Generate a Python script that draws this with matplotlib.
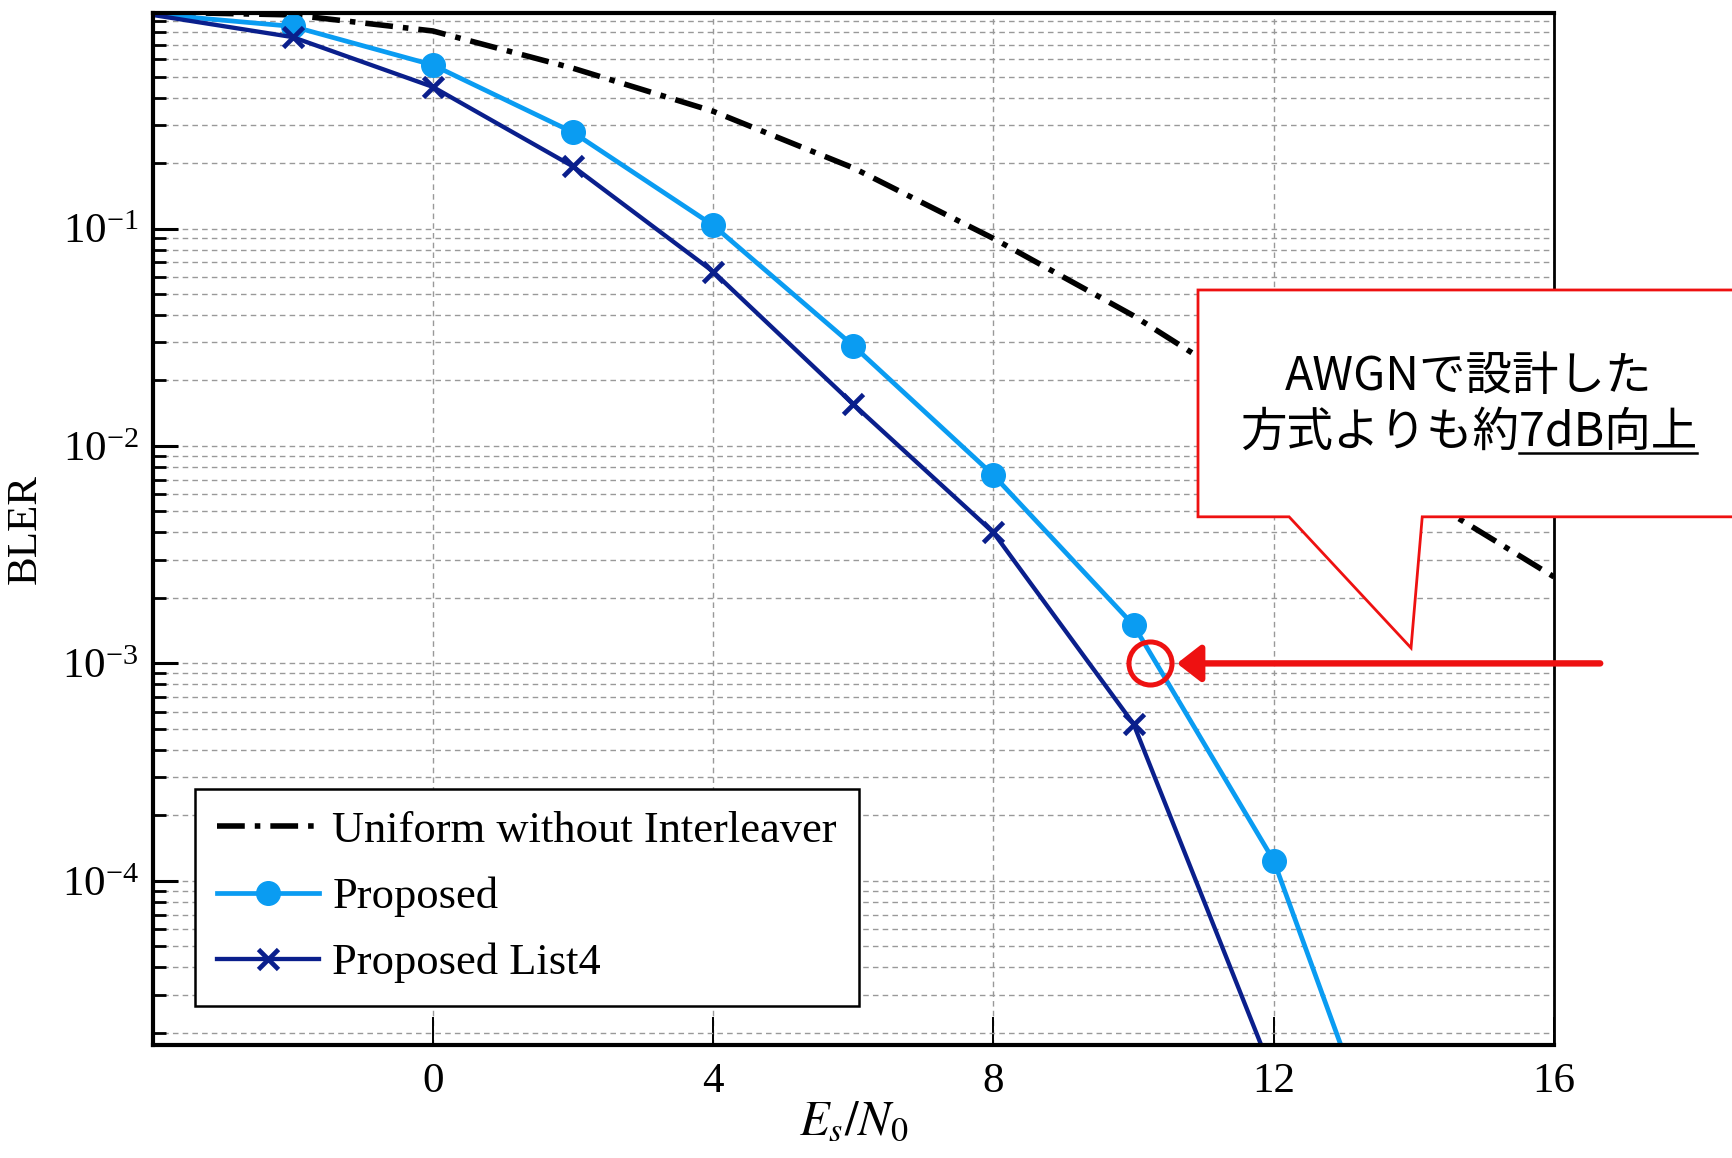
import numpy as np
import matplotlib
matplotlib.use("Agg")
import matplotlib.pyplot as plt
from matplotlib.patches import Polygon
from matplotlib.ticker import LogLocator, NullFormatter

# data: BLER vs Es/N0
snr = [-4, -2, 0, 2, 4, 6, 8, 10, 12, 14, 16]
uniform = [0.99, 0.96, 0.81, 0.546, 0.346, 0.19, 0.090, 0.0397, 0.0155, 0.0062, 0.0025]

snr_prop = [-4, -2, 0, 2, 4, 6, 8, 10, 12, 14]
proposed = [0.97, 0.85, 0.565, 0.277, 0.1035, 0.0289, 0.00734, 0.0015, 1.24e-4, 2.1e-6]

snr_list4 = [-4, -2, 0, 2, 4, 6, 8, 10, 12]
list4 = [0.96, 0.759, 0.448, 0.193, 0.0634, 0.01556, 0.0040, 5.27e-4, 1.26e-5]

labels = ["Uniform without Interleaver", "Proposed", "Proposed List4"]
xticks = [0, 4, 8, 12, 16]

# highlighted operating point
mark_x, mark_y = 10.23, 1e-3
arrow_from, arrow_to = 16.66, 10.62

plt.rcParams["font.family"] = ["Liberation Serif", "DejaVu Serif"]
plt.rcParams["mathtext.fontset"] = "stix"

fig = plt.figure(figsize=(17.33, 11.58), dpi=100)
ax = fig.add_axes([0.088, 0.0972, 0.8087, 0.8916])

ax.plot(snr, uniform, color="black", lw=4, ls=(0, (5, 1.8, 1, 1.8)), label=labels[0])
ax.plot(snr_prop, proposed, color="#0a9cf2", lw=3.4, marker="o", ms=17,
        markevery=slice(1, None), label=labels[1])
ax.plot(snr_list4, list4, color="#0a1f8c", lw=3.1, marker="x", ms=15, mew=3.4,
        markevery=slice(1, None), label=labels[2])

ax.set_yscale("log")
ax.set_xlim(-4, 16)
ax.set_ylim(1.75e-5, 0.98)
ax.set_xticks(xticks)
ax.yaxis.set_major_locator(LogLocator(base=10, numticks=20))
ax.yaxis.set_minor_locator(LogLocator(base=10, subs=np.arange(2, 10), numticks=20))
ax.yaxis.set_minor_formatter(NullFormatter())

ax.tick_params(axis="both", which="major", direction="in", labelsize=31)
ax.tick_params(axis="y", which="major", length=18, width=2.2, pad=10)
ax.tick_params(axis="y", which="minor", direction="in", length=9, width=2)
ax.tick_params(axis="x", which="major", length=20, width=1.4, pad=12)

ax.grid(True, which="major", axis="x", ls=(0, (4, 3)), color="#999999", lw=1)
ax.grid(True, which="both", axis="y", ls=(0, (4, 3)), color="#999999", lw=1)

for side in ["left", "bottom", "top"]:
    ax.spines[side].set_linewidth(3)
ax.spines["right"].set_linewidth(2)

ax.set_xlabel(r"$E_s/N_0$", fontsize=35, labelpad=0)
ax.set_ylabel("BLER", fontsize=31, labelpad=12)

leg = ax.legend(loc="lower left", bbox_to_anchor=(0.030, 0.0385), borderaxespad=0,
                fontsize=32, fancybox=False, framealpha=1, edgecolor="black",
                handlelength=2.3, handletextpad=0.3, labelspacing=0.58,
                borderpad=0.5)
leg.get_frame().set_linewidth(1.8)

# highlighted point and arrow
ax.plot([mark_x], [mark_y], marker="o", ms=31, mfc="none", mec="#ee1111", mew=3.6,
        clip_on=False, zorder=6)
ax.annotate("", xy=(arrow_to, mark_y), xytext=(arrow_from, mark_y),
            arrowprops=dict(arrowstyle="-|>,head_length=0.45,head_width=0.35",
                            color="#ee1111", lw=4.6, mutation_scale=32, shrinkA=0, shrinkB=0),
            annotation_clip=False, zorder=6)

# speech-bubble callout
bubble = Polygon([(0.746, 0.7317), (1.16, 0.7317), (1.16, 0.512), (0.906, 0.512),
                  (0.898, 0.385), (0.811, 0.512), (0.746, 0.512)],
                 closed=True, transform=ax.transAxes, clip_on=False,
                 facecolor="white", edgecolor="#ee1111", lw=2, zorder=7)
ax.add_patch(bubble)

jp = ["Noto Sans CJK JP", "DejaVu Sans"]
ax.text(0.939, 0.648, "AWGNで設計した", transform=ax.transAxes, ha="center",
        va="center", fontsize=33.5, family=jp, zorder=8)
line2 = ax.text(0.939, 0.594, "方式よりも約7dB向上", transform=ax.transAxes, ha="center",
                va="center", fontsize=33.5, family=jp, zorder=8)

# underline the "7dB向上" part
fig.canvas.draw()
r = fig.canvas.get_renderer()
full_bb = line2.get_window_extent(r)
probe = ax.text(0, 0, "方式よりも約", fontsize=33.5, family=jp, transform=None)
pre_w = probe.get_window_extent(r).width
probe.remove()
inv = ax.transAxes.inverted()
x0 = inv.transform((full_bb.x0 + pre_w, full_bb.y0))[0]
x1 = inv.transform((full_bb.x1, full_bb.y0))[0]
yu = inv.transform((0, full_bb.y0 + 3))[1]
ax.plot([x0, x1], [yu, yu], transform=ax.transAxes, color="black", lw=1.8,
        clip_on=False, zorder=8)

fig.savefig("out.png", dpi=100)
